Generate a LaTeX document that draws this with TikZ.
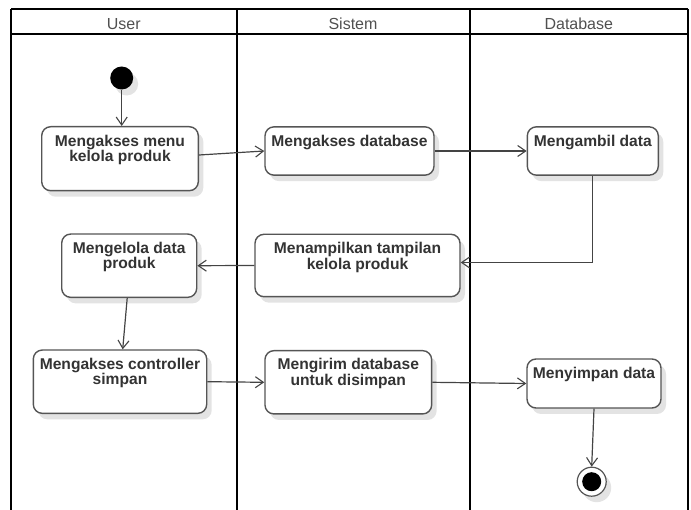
\documentclass[tikz,border=0pt]{standalone}
\usepackage{fontspec}
\setmainfont{Liberation Sans}
\usetikzlibrary{arrows.meta,shadows}
\definecolor{boxline}{HTML}{555555}
\definecolor{txtcol}{HTML}{333333}
\definecolor{hdrtxt}{HTML}{505050}
\definecolor{flowcol}{HTML}{444444}
\begin{document}
\begin{tikzpicture}[x=1pt,y=-1pt,
  lane/.style={line width=2pt, draw=black},
  lanehead/.style={font=\fontsize{16}{16}\selectfont, text=hdrtxt, anchor=base, inner sep=0pt},
  softshadow/.style={drop shadow={shadow xshift=5pt, shadow yshift=-6pt, fill=black!11, opacity=1}},
  action/.style={draw=boxline, line width=1.4pt, rounded corners=9pt, fill=white, softshadow},
  acttext/.style={font=\bfseries\fontsize{15.6}{15.5}\selectfont, text=txtcol, align=center, anchor=north, inner sep=0pt},
  flow/.style={draw=flowcol, line width=1.2pt, -{Straight Barb[length=8pt,width=11pt,line width=1.1pt]}},
  ]
\useasboundingbox (0,0) rectangle (691,510);

% swimlane frame
\draw[lane] (11,9) -- (688,9);
\draw[lane] (11,34) -- (688,34);
\foreach \lx in {11,236.5,469.5,688} {
  \draw[lane] (\lx,9) -- (\lx,512);
}
\node[lanehead] (hUser) at (123.8,30) {User};
\node[lanehead] (hSistem) at (353,30) {Sistem};
\node[lanehead] (hDb) at (578.8,30) {Database};

% initial node
\node[circle, fill=black, minimum size=23pt, inner sep=0pt, softshadow] (start) at (121.7,78) {};

% actions
\node[action, minimum width=156.6pt, minimum height=64pt] (b1) at (120,158.7) {};
\node[acttext] (b1t) at ([yshift=-8.5pt]b1.north) {Mengakses menu\\kelola produk};

\node[action, minimum width=169pt, minimum height=48.3pt] (b2) at (349.5,151) {};
\node[acttext] (b2t) at ([yshift=-8.5pt]b2.north) {Mengakses database};

\node[action, minimum width=131pt, minimum height=48.3pt] (b3) at (592.8,151) {};
\node[acttext] (b3t) at ([yshift=-8.5pt]b3.north) {Mengambil data};

\node[action, minimum width=205pt, minimum height=62.4pt] (b4) at (357.5,265.5) {};
\node[acttext] (b4t) at ([yshift=-8.5pt]b4.north) {Menampilkan tampilan\\kelola produk};

\node[action, minimum width=135pt, minimum height=63.3pt] (b5) at (129.2,265.7) {};
\node[acttext] (b5t) at ([yshift=-8.5pt]b5.north) {Mengelola data\\produk};

\node[action, minimum width=173.4pt, minimum height=63.3pt] (b6) at (120,381.7) {};
\node[acttext] (b6t) at ([yshift=-8.5pt]b6.north) {Mengakses controller\\simpan};

\node[action, minimum width=166.7pt, minimum height=63.3pt] (b7) at (348.3,382.3) {};
\node[acttext] (b7t) at ([yshift=-8.5pt]b7.north) {Mengirim database\\untuk disimpan};

\node[action, minimum width=134pt, minimum height=49pt] (b8) at (594,383.5) {};
\node[acttext] (b8t) at ([yshift=-8.5pt]b8.north) {Menyimpan data};

% final node
\node[circle, draw=boxline, fill=white, line width=1.2pt, minimum size=29pt, inner sep=0pt, softshadow] (end) at (591.7,481.7) {};
\node[circle, fill=black, minimum size=19pt, inner sep=0pt] (endin) at (end.center) {};

% control flow
\draw[flow] (start.south) -- (start.south |- b1.north);
\draw[flow] ([yshift=3.7pt]b1.east) -- (b2.west);
\draw[flow] (b2.east) -- (b3.west);
\draw[flow] (b3.south) |- ([yshift=3pt]b4.east);
\draw[flow] (b4.west) -- (b5.east);
\draw[flow] ([xshift=-2pt]b5.south) -- ([xshift=2.7pt]b6.north);
\draw[flow] (b6.east) -- (b7.west);
\draw[flow] (b7.east) -- (b8.west);
\draw[flow] (b8.south) -- (end.north);
\end{tikzpicture}
\end{document}
